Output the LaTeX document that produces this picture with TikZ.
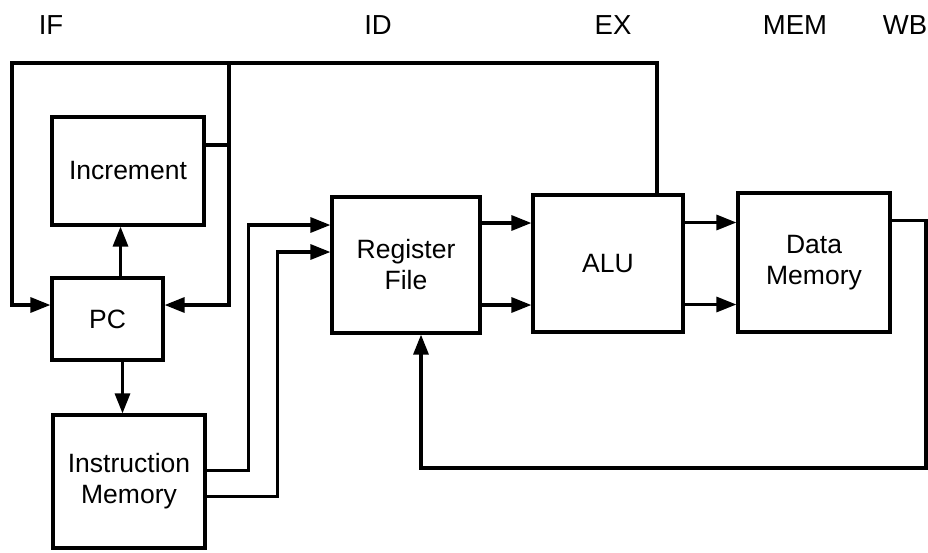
\documentclass[tikz,border=0pt]{standalone}
\usepackage{fontspec}
\setmainfont{Liberation Sans}
\usetikzlibrary{arrows.meta,positioning}
\begin{document}
\begin{tikzpicture}[x=1pt,y=-1pt]
\tikzset{
  unitbox/.style={rectangle,draw=black,line width=3.2pt,align=center,inner sep=0pt,font=\fontsize{26.5}{31}\selectfont},
  wire/.style={draw=black,line width=3.2pt,line join=miter},
  flow/.style={wire,-{Triangle[length=20pt,width=15pt]}},
  stagelabel/.style={font=\fontsize{27.5}{31}\selectfont}
}
\useasboundingbox (0,0) rectangle (928,552);
\node[stagelabel] (l_IF) at (51,25) {IF};
\node[stagelabel] (l_ID) at (378,25) {ID};
\node[stagelabel] (l_EX) at (613,25) {EX};
\node[stagelabel] (l_MEM) at (795,25) {MEM};
\node[stagelabel] (l_WB) at (905,25) {WB};
\node[unitbox,minimum width=152pt,minimum height=108pt] (n_Inc) at (128,171) {Increment};
\node[unitbox,minimum width=111pt,minimum height=82pt] (n_PC) at (107.5,319) {PC};
\node[unitbox,minimum width=152pt,minimum height=133pt] (n_IMem) at (129,481.5) {Instruction\\Memory};
\node[unitbox,minimum width=148pt,minimum height=136pt] (n_RF) at (406,265) {Register\\File};
\node[unitbox,minimum width=150pt,minimum height=137pt] (n_ALU) at (608,263.5) {ALU};
\node[unitbox,minimum width=152pt,minimum height=139pt] (n_DMem) at (814,262.5) {Data\\Memory};
\coordinate (c_TopL) at (12,63);
\coordinate (c_TopM) at (229,63);
\coordinate (c_WBR) at (926,468);
\draw[flow] ([xshift=49pt]n_ALU.north) |- (c_TopL) |- ([yshift=14pt]n_PC.west);
\draw[flow] (c_TopM) |- ([yshift=14pt]n_PC.east);
\draw[wire] ([yshift=26pt]n_Inc.east) -| (c_TopM);
\draw[flow] ([xshift=13pt]n_PC.north) -- ([xshift=13pt]n_PC.north |- n_Inc.south);
\draw[flow] ([xshift=15pt]n_PC.south) -- ([xshift=15pt]n_PC.south |- n_IMem.north);
\draw[flow] ([yshift=11pt]n_IMem.east) -| ([xshift=-82pt,yshift=40pt]n_RF.west) -- ([yshift=40pt]n_RF.west);
\draw[flow] ([yshift=-15pt]n_IMem.east) -| ([xshift=-53pt,yshift=13pt]n_RF.west) -- ([yshift=13pt]n_RF.west);
\draw[flow] ([yshift=42pt]n_RF.east) -- ([yshift=42pt]n_RF.east -| n_ALU.west);
\draw[flow] ([yshift=-40pt]n_RF.east) -- ([yshift=-40pt]n_RF.east -| n_ALU.west);
\draw[flow] ([yshift=41pt]n_ALU.east) -- ([yshift=41pt]n_ALU.east -| n_DMem.west);
\draw[flow] ([yshift=-41pt]n_ALU.east) -- ([yshift=-41pt]n_ALU.east -| n_DMem.west);
\draw[flow] ([yshift=42pt]n_DMem.east) -| (c_WBR) -| ([xshift=15pt]n_RF.south);
\end{tikzpicture}
\end{document}
